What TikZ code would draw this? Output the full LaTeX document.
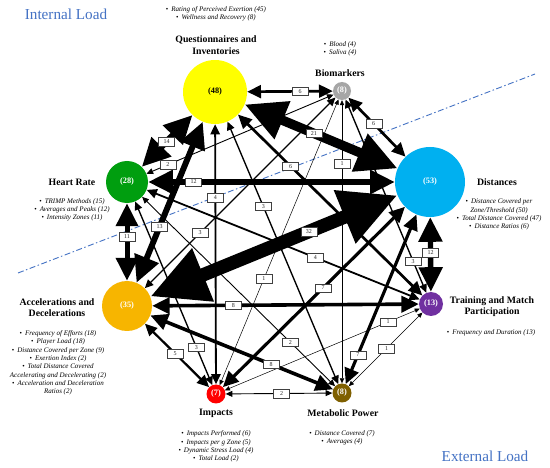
\documentclass[tikz,border=0pt]{standalone}
\usepackage{fontspec}
\setmainfont{Liberation Serif}
\usetikzlibrary{arrows.meta,calc}
\definecolor{qcol}{HTML}{FFFF00}
\definecolor{bcol}{HTML}{A6A6A6}
\definecolor{hcol}{HTML}{009E0F}
\definecolor{dcol}{HTML}{00B0F0}
\definecolor{acol}{HTML}{F7B500}
\definecolor{tcol}{HTML}{7030A0}
\definecolor{icol}{HTML}{FF0000}
\definecolor{mcol}{HTML}{7F6000}
\definecolor{loadcol}{HTML}{4472C4}
\newcommand{\myb}[1]{\textup{•}\hspace{3pt}#1}
\begin{document}
\begin{tikzpicture}[x=1pt,y=-1pt,
  circ/.style={circle, inner sep=0pt, font=\bfseries\fontsize{8.3}{8.3}\selectfont, text=white},
  ttl/.style={font=\bfseries\fontsize{9.8}{11.5}\selectfont, align=center, inner sep=0pt},
  blist/.style={font=\itshape\fontsize{7}{8.3}\selectfont, align=center, inner sep=0pt},
  lab/.style={draw=black!75, fill=white, line width=0.35pt, inner sep=0pt, minimum width=16pt, minimum height=8.5pt, font=\fontsize{6}{6}\selectfont, text=black!85},
  con/.style={line width=#1, {Triangle[length=3pt 4,width=2.5pt 3.8]}-{Triangle[length=3pt 4,width=2.5pt 3.8]}},
  loadtxt/.style={font=\fontsize{15.2}{15.2}\selectfont, text=loadcol, inner sep=0pt},
]
\useasboundingbox (0,0) rectangle (550,468);
\fill[white] (0,0) rectangle (550,468);

% separation line
\draw[loadcol, line width=0.9pt, dash pattern=on 6pt off 2.5pt on 1.5pt off 2.5pt] (18,273) -- (535,74);

% nodes
\node[circ, fill=qcol, minimum size=64pt, text=black] (Q) at (215,92) {(48)};
\node[circ, fill=bcol, minimum size=18pt] (B) at (342,91) {(8)};
\node[circ, fill=hcol, minimum size=42pt] (HR) at (127,182) {(28)};
\node[circ, fill=dcol, minimum size=70pt] (D) at (430,182) {(53)};
\node[circ, fill=acol, minimum size=50pt] (A) at (127,306) {(35)};
\node[circ, fill=tcol, minimum size=24pt] (T) at (431,304) {(13)};
\node[circ, fill=icol, minimum size=19pt] (I) at (216,394) {(7)};
\node[circ, fill=mcol, minimum size=19pt] (M) at (342,393) {(8)};

% connectors
\draw[con=13.5pt] (D) -- (A);
\draw[con=9.5pt] (Q) -- (D);
\draw[con=6.3pt] (Q) -- (HR);
\draw[con=5.9pt] (Q) -- (A);
\draw[con=2.7pt] (Q) -- (B);
\draw[con=2.7pt] (Q) -- (T);
\draw[con=1.8pt] (Q) -- (I);
\draw[con=1.35pt] (Q) -- (M);
\draw[con=0.9pt] (B) -- (HR);
\draw[con=2.7pt] (B) -- (D);
\draw[con=1.35pt] (B) -- (A);
\draw[con=1.35pt] (B) -- (T);
\draw[con=0.5pt] (B) -- (I);
\draw[con=0.5pt] (B) -- (M);
\draw[con=5.4pt] (HR) -- (D);
\draw[con=5pt] (HR) -- (A);
\draw[con=1.8pt] (HR) -- (T);
\draw[con=1.35pt] (HR) -- (I);
\draw[con=0.9pt] (HR) -- (M);
\draw[con=5.4pt] (D) -- (T);
\draw[con=3.15pt] (D) -- (I);
\draw[con=3.15pt] (D) -- (M);
\draw[con=3.6pt] (A) -- (T);
\draw[con=2.25pt] (A) -- (I);
\draw[con=3.6pt] (A) -- (M);
\draw[con=0.5pt] (T) -- (I);
\draw[con=0.5pt] (T) -- (M);
\draw[con=0.9pt] (I) -- (M);

% connector labels
\node[lab] at ($(Q)!0.67!(B)$) {6};
\node[lab] at ($(Q)!0.55!(HR)$) {14};
\node[lab] at ($(Q)!0.46!(D)$) {21};
\node[lab] at ($(Q)!0.63!(A)$) {13};
\node[lab] at ($(Q)!0.35!(T)$) {6};
\node[lab] at ($(Q)!0.35!(I)$) {4};
\node[lab] at ($(Q)!0.38!(M)$) {3};
\node[lab] at ($(B)!0.81!(HR)$) {2};
\node[lab] at ($(B)!0.36!(D)$) {6};
\node[lab] at ($(B)!0.66!(A)$) {3};
\node[lab] at ($(B)!0.8!(T)$) {3};
\node[lab] at ($(B)!0.62!(I)$) {1};
\node[lab] at ($(B)!0.24!(M)$) {1};
\node[lab] at ($(HR)!0.22!(D)$) {12};
\node[lab] at ($(HR)!0.44!(A)$) {11};
\node[lab] at ($(HR)!0.62!(T)$) {4};
\node[lab] at ($(HR)!0.78!(I)$) {3};
\node[lab] at ($(HR)!0.76!(M)$) {2};
\node[lab] at ($(D)!0.40!(A)$) {32};
\node[lab] at ($(D)!0.58!(T)$) {12};
\node[lab] at ($(D)!0.5!(I)$) {7};
\node[lab] at ($(D)!0.82!(M)$) {7};
\node[lab] at ($(A)!0.35!(T)$) {8};
\node[lab] at ($(A)!0.54!(I)$) {5};
\node[lab] at ($(A)!0.67!(M)$) {8};
\node[lab] at ($(T)!0.2!(I)$) {1};
\node[lab] at ($(T)!0.5!(M)$) {1};
\node[lab] at ($(I)!0.52!(M)$) {2};

% titles
\node[ttl] (tQ) at (216,45) {Questionnaires and\\Inventories};
\node[ttl] (tB) at (340,73) {Biomarkers};
\node[ttl] (tHR) at (72,182) {Heart Rate};
\node[ttl] (tD) at (497,182) {Distances};
\node[ttl] (tA) at (57,307.5) {Accelerations and\\Decelerations};
\node[ttl] (tT) at (492,306.5) {Training and Match\\Participation};
\node[ttl] (tI) at (216,413) {Impacts};
\node[ttl] (tM) at (343,413) {Metabolic Power};

% lists
\node[blist] (lQ) at (216,14) {\myb{Rating of Perceived Exertion (45)}\\\myb{Wellness and Recovery (8)}};
\node[blist] (lB) at (340,49) {\myb{Blood (4)}\\\myb{Saliva (4)}};
\node[blist] (lHR) at (72,210) {\myb{TRIMP Methods (15)}\\\myb{Averages and Peaks (12)}\\\myb{Intensity Zones (11)}};
\node[blist] (lD) at (499,214.5) {\myb{Distance Covered per}\\Zone/Threshold (50)\\\myb{Total Distance Covered (47)}\\\myb{Distance Ratios (6)}};
\node[blist] (lA) at (58,363) {\myb{Frequency of Efforts (18)}\\\myb{Player Load (18)}\\\myb{Distance Covered per Zone (9)}\\\myb{Exertion Index (2)}\\\myb{Total Distance Covered}\\Accelerating and Decelerating (2)\\\myb{Acceleration and Deceleration}\\Ratios (2)};
\node[blist] (lT) at (491,333) {\myb{Frequency and Duration (13)}};
\node[blist] (lI) at (216,446.5) {\myb{Impacts Performed (6)}\\\myb{Impacts per g Zone (5)}\\\myb{Dynamic Stress Load (4)}\\\myb{Total Load (2)}};
\node[blist] (lM) at (342,438) {\myb{Distance Covered (7)}\\\myb{Averages (4)}};

% load labels
\node[loadtxt] (il) at (66,14) {Internal Load};
\node[loadtxt] (el) at (485,456) {External Load};
\end{tikzpicture}
\end{document}
